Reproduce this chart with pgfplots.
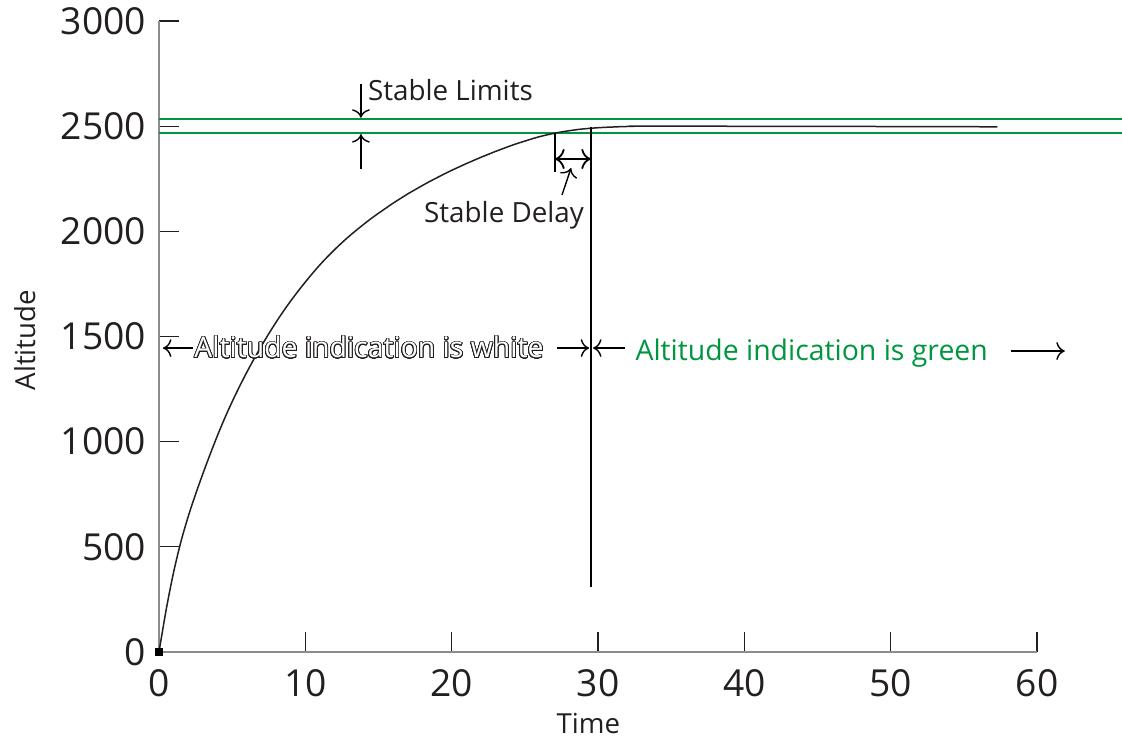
\documentclass[border=0pt]{standalone}
\usepackage{pgfplots}
\pgfplotsset{compat=1.18}
\usetikzlibrary{arrows.meta}
\usepackage{fontspec}
\setmainfont{Open Sans}
\usepackage[copies]{contour}
\contourlength{0.4pt}
\contournumber{32}
\definecolor{txt}{RGB}{35,31,32}
\definecolor{grn}{RGB}{0,150,64}
\definecolor{axgray}{RGB}{140,140,140}
\begin{document}
\begin{tikzpicture}[>={To[scale=1.35]}]
\begin{axis}[
  scale only axis, width=439pt, height=315.5pt,
  xmin=0, xmax=60, ymin=0, ymax=3000,
  axis lines*=left,
  axis line style={axgray, line width=0.9pt},
  xtick={0,10,...,60}, ytick={0,500,...,3000},
  tick align=inside, major tick length=10pt,
  tick style={txt, line width=0.6pt},
  /pgf/number format/assume math mode=true,
  /pgf/number format/1000 sep={},
  ticklabel style={font=\fontsize{18.6}{21}\selectfont, text=txt},
  xticklabel style={yshift=-5pt},
  yticklabel style={xshift=-3pt},
  xlabel={Time}, ylabel={Altitude},
  label style={font=\fontsize{13.8}{16}\selectfont, text=txt},
  xlabel style={at={(axis description cs:0.489,-0.113)}, anchor=center},
  ylabel style={at={(axis description cs:-0.1526,0.494)}, anchor=center},
  clip=false,
]
% stable limits (green)
\addplot[grn, line width=1pt] coordinates {(0,2534) (65.8,2534)};
\addplot[grn, line width=1pt] coordinates {(0,2467) (65.8,2467)};
% altitude curve
\addplot[txt, line width=0.75pt, smooth] coordinates {
(0,0) (0.5,205) (1,380) (1.5,525) (2,645) (2.5,750) (3,848) (3.5,941)
(4,1030) (4.5,1113) (5,1190) (5.5,1262) (6,1330) (6.5,1394) (7,1455) (7.5,1513)
(8,1568) (8.5,1620) (9,1669) (9.5,1715) (10,1759) (10.5,1801) (11,1841) (11.5,1878)
(12,1913) (12.5,1946) (13,1977) (13.5,2006) (14,2034) (14.5,2061) (15,2086) (15.5,2110)
(16,2134) (16.5,2156) (17,2178) (17.5,2198) (18,2218) (18.5,2237) (19,2255) (19.5,2273)
(20,2290) (20.5,2306) (21,2322) (21.5,2337) (22,2352) (22.5,2366) (23,2380) (23.5,2393)
(24,2406) (24.5,2418) (25,2429) (25.5,2440) (26,2450) (26.5,2458.5) (27,2466) (27.5,2472.5)
(28,2478) (28.5,2483) (29,2487) (29.5,2490) (30,2492.5) (30.5,2494.5) (31,2496) (31.5,2497.5)
(32,2498.5) (32.5,2499.5) (33,2500) (45,2499) (57.3,2497)
};
% vertical markers
\addplot[black, line width=0.9pt] coordinates {(29.52,2496) (29.52,309)};
\addplot[black, line width=0.7pt] coordinates {(27.06,2467) (27.06,2282)};
% origin mark
\addplot[only marks, mark=square*, mark size=1.6pt, black] coordinates {(0,0)};

% annotations
\draw[->, line width=0.7pt, black] (13.8,2700) -- (13.8,2540);
\draw[->, line width=0.7pt, black] (13.8,2295) -- (13.8,2462);
\node[anchor=base west, font=\fontsize{13.9}{16}\selectfont, text=txt] at (13.8,2620) {Stable Limits};
\draw[<->, line width=0.9pt, black] (27.06,2344) -- (29.52,2344);
\draw[->, line width=0.7pt, black] (27.54,2173) -- (28.16,2301);
\node[anchor=base, font=\fontsize{13.9}{16}\selectfont, text=txt] at (23.58,2044) {Stable Delay};

\draw[->, line width=0.7pt, black] (2.32,1445) -- (0.27,1445);
\node[anchor=base, font=\fontsize{14.2}{16}\selectfont] at (14.35,1398) {\contour{txt}{\textcolor{white}{Altitude indication is white}}};
\draw[->, line width=0.7pt, black] (27.2,1445) -- (29.4,1445);
\draw[->, line width=0.7pt, black] (31.85,1445) -- (29.66,1445);
\node[anchor=base, font=\fontsize{14.2}{16}\selectfont, text=grn] at (44.6,1388) {Altitude indication is green};
\draw[->, line width=0.7pt, black] (58.2,1431) -- (61.9,1431);
\end{axis}
\pgfresetboundingbox
\path[use as bounding box] ([shift={(-79.5pt,-46.5pt)}]current axis.south west) rectangle ([shift={(42.5pt,10.5pt)}]current axis.north east);
\end{tikzpicture}
\end{document}
